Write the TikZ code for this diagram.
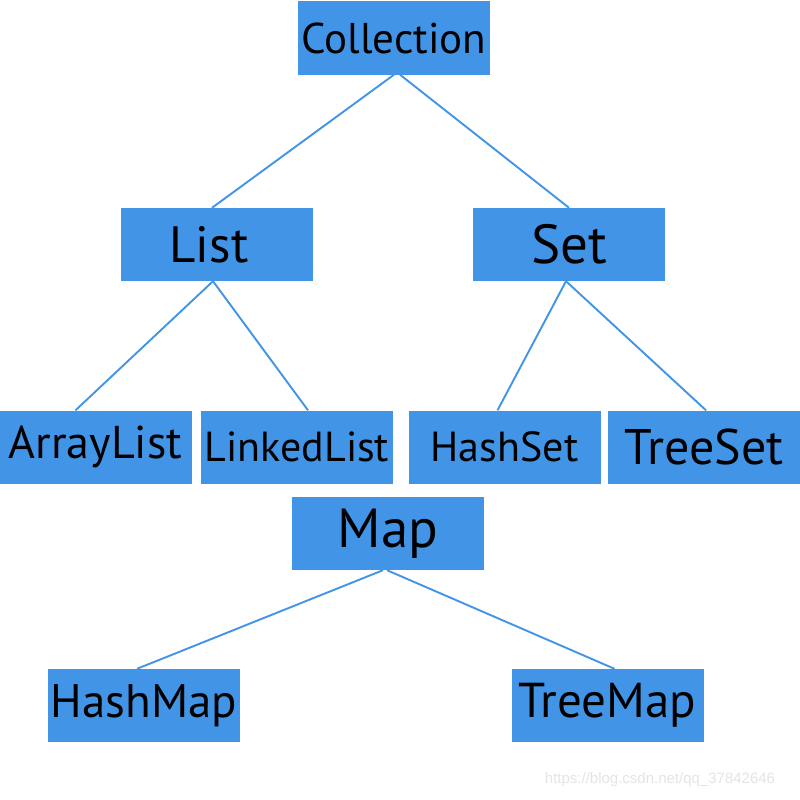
\documentclass[tikz,border=0pt]{standalone}
\usepackage{fontspec}
\setmainfont{PT Sans}
\newfontfamily\markfont{Liberation Sans}
\usepackage{tikz}
\usetikzlibrary{positioning}
\definecolor{clsblue}{RGB}{66,148,231}
\definecolor{markgray}{RGB}{228,228,228}

\begin{document}
\begin{tikzpicture}[x=1pt, y=-1pt,
    klass/.style={fill=clsblue, inner sep=0pt,
                  minimum width=192pt, minimum height=73pt,
                  text=black},
    link/.style={clsblue, line width=1.9pt}
  ]
    \useasboundingbox (0,0) rectangle (800,800);

    % Root: Collection
    \node[klass, font=\fontsize{43}{50}\selectfont] (coll) at (394, 38) {Collection};

    % Level 2: List and Set
    \node[klass, font=\fontsize{51}{58}\selectfont] (list) at (217, 244.5) {List\hspace*{16pt}};
    \node[klass, font=\fontsize{55}{60}\selectfont] (set) at (569, 244.5) {Set};
    \draw[link] (coll.south) -- ([xshift=-5pt]list.north);
    \draw[link] ([xshift=6pt]coll.south) -- (set.north);

    % Level 3: implementations of List
    \node[klass, font=\fontsize{46}{52}\selectfont] (alist) at (95.5, 447) {ArrayList};
    \node[klass, font=\fontsize{42}{50}\selectfont] (llist) at (297, 447) {LinkedList};
    \draw[link] ([xshift=-4pt]list.south) -- ([xshift=-20pt]alist.north);
    \draw[link] ([xshift=-4pt]list.south) -- ([xshift=11pt]llist.north);

    % Level 3: implementations of Set
    \node[klass, font=\fontsize{42}{50}\selectfont] (hset) at (504.5, 447) {HashSet};
    \node[klass, font=\fontsize{50}{56}\selectfont] (tset) at (704, 447) {TreeSet};
    \draw[link] ([xshift=-3pt]set.south) -- ([xshift=-7pt]hset.north);
    \draw[link] ([xshift=-3pt]set.south) -- ([xshift=2pt]tset.north);

    % Map and its implementations
    \node[klass, font=\fontsize{55}{60}\selectfont] (map) at (388, 533.5) {Map};
    \node[klass, font=\fontsize{47}{54}\selectfont] (hmap) at (144, 705.5) {HashMap};
    \node[klass, font=\fontsize{49}{56}\selectfont] (tmap) at (607.5, 705.5) {TreeMap};
    \draw[link] ([xshift=-5pt]map.south) -- ([xshift=-7pt]hmap.north);
    \draw[link] ([xshift=-1pt]map.south) -- ([xshift=7pt]tmap.north);

    % watermark
    \node[font=\markfont\fontsize{15}{18}\selectfont, markgray] (mark) at (660, 780)
      {https://blog.csdn.net/qq\_37842646};
  \end{tikzpicture}
\end{document}
